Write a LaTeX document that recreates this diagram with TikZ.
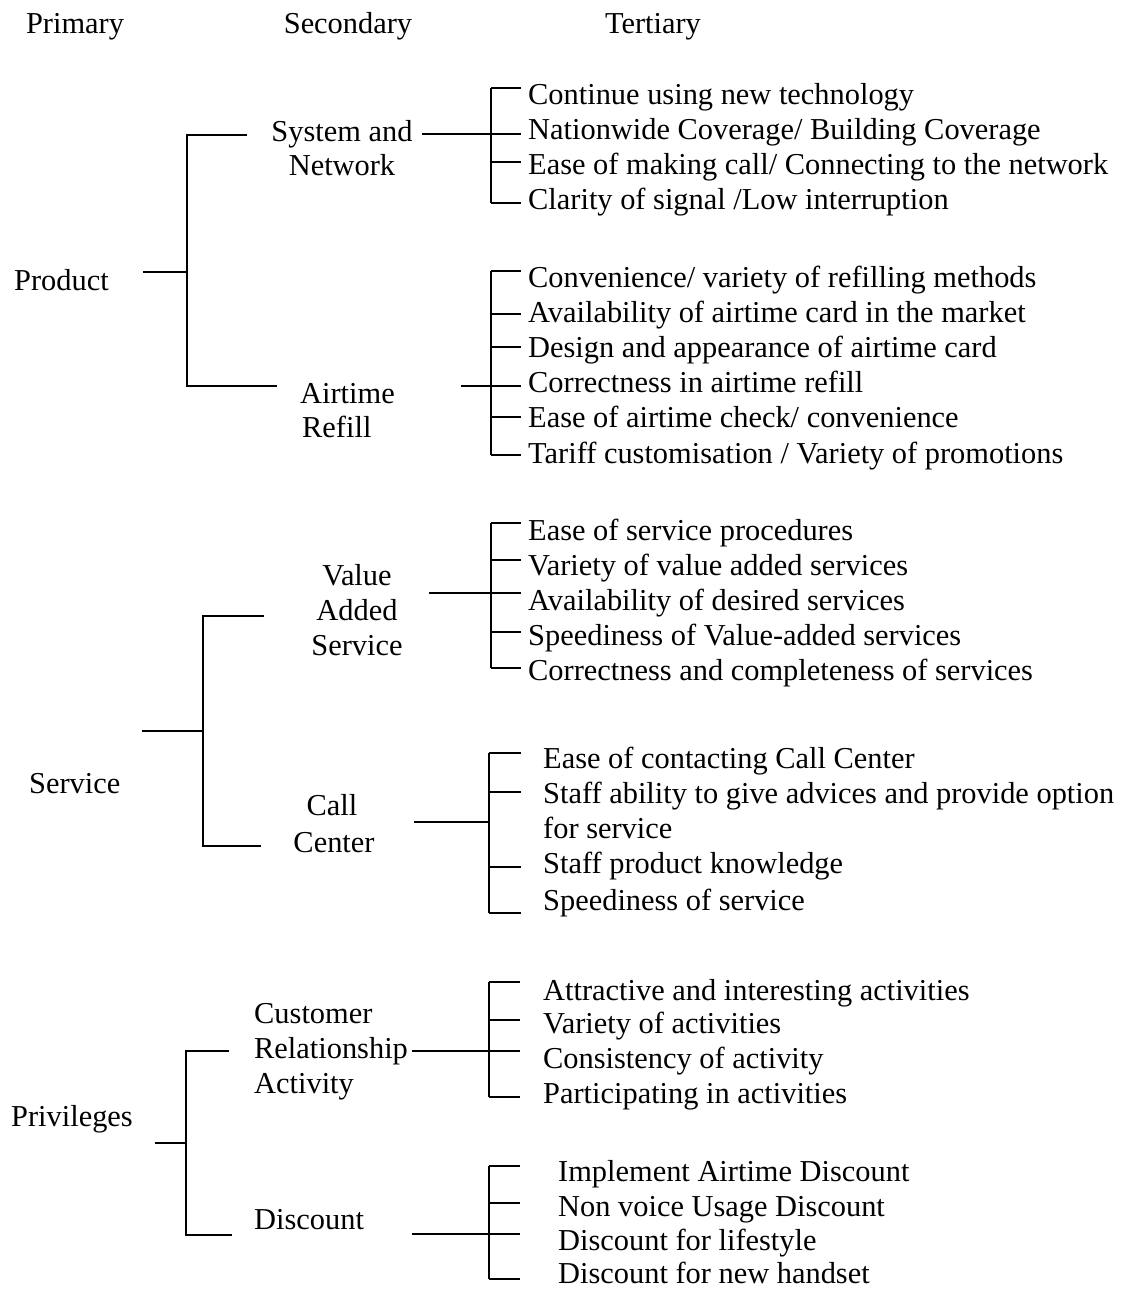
\documentclass[tikz,border=0pt]{standalone}
\usepackage{fontspec}
\setmainfont{Liberation Serif}
\begin{document}
\begin{tikzpicture}[x=1pt,y=-1pt,
  txt/.style={font=\fontsize{30.4}{35}\selectfont, inner sep=0pt, anchor=base west, text=black},
  ctr/.style={txt, anchor=base},
  conn/.style={line width=1.7pt, black}]
\useasboundingbox (0,0) rectangle (1125,1290);
% headers
\node[ctr] (hp) at (75,34) {Primary};
\node[ctr] (hs) at (348,34) {Secondary};
\node[ctr] (ht) at (653,34) {Tertiary};

% ================= PRODUCT =================
\node[txt] (product) at (14,290) {Product};
\coordinate (p-stub) at (143,272);
\coordinate (p-mid) at (187,272);
\coordinate (p-top) at (187,135);
\coordinate (p-bot) at (187,386);
\coordinate (p-topend) at (247,135);
\coordinate (p-botend) at (277,386);
\draw[conn] (p-stub) -- (p-mid);
\draw[conn] (p-topend) -- (p-top) -- (p-bot) -- (p-botend);

\node[ctr] (sn1) at (342,141) {System and};
\node[ctr] (sn2) at (342,175) {Network};
\coordinate (sn-out) at (422,134);
\foreach \y [count=\i] in {88,134,162,203}{
  \coordinate (sn-b\i) at (491,\y);
  \coordinate (sn-t\i) at (521,\y);
  \draw[conn] (sn-b\i) -- (sn-t\i);}
\draw[conn] (sn-b1) -- (sn-b4);
\draw[conn] (sn-out) -- (sn-b2);
\node[txt] (sn-a) at (528,104) {Continue using new technology};
\node[txt] (sn-b) at (528,139) {Nationwide Coverage/ Building Coverage};
\node[txt] (sn-c) at (528,174) {Ease of making call/ Connecting to the network};
\node[txt] (sn-d) at (528,209) {Clarity of signal /Low interruption};

\node[txt] (ar1) at (300,403) {Airtime};
\node[txt] (ar2) at (302,437) {Refill};
\coordinate (ar-out) at (461,386);
\foreach \y [count=\i] in {271,314,347,386,417,455}{
  \coordinate (ar-b\i) at (491,\y);
  \coordinate (ar-t\i) at (521,\y);
  \draw[conn] (ar-b\i) -- (ar-t\i);}
\draw[conn] (ar-b1) -- (ar-b6);
\draw[conn] (ar-out) -- (ar-b4);
\node[txt] (ar-a) at (528,287) {Convenience/ variety of refilling methods};
\node[txt] (ar-b) at (528,322) {Availability of airtime card in the market};
\node[txt] (ar-c) at (528,357) {Design and appearance of airtime card};
\node[txt] (ar-d) at (528,392) {Correctness in airtime refill};
\node[txt] (ar-e) at (528,427) {Ease of airtime check/ convenience};
\node[txt] (ar-f) at (528,463) {Tariff customisation / Variety of promotions};

% ================= SERVICE =================
\node[txt] (service) at (29,793) {Service};
\coordinate (s-stub) at (142,731);
\coordinate (s-mid) at (203,731);
\coordinate (s-top) at (203,616);
\coordinate (s-bot) at (203,846);
\coordinate (s-topend) at (264,616);
\coordinate (s-botend) at (261,846);
\draw[conn] (s-stub) -- (s-mid);
\draw[conn] (s-topend) -- (s-top) -- (s-bot) -- (s-botend);

\node[ctr] (va1) at (357,585) {Value};
\node[ctr] (va2) at (357,620) {Added};
\node[ctr] (va3) at (357,655) {Service};
\coordinate (va-out) at (429,593);
\foreach \y [count=\i] in {523,560,593,632,668}{
  \coordinate (va-b\i) at (491,\y);
  \coordinate (va-t\i) at (521,\y);
  \draw[conn] (va-b\i) -- (va-t\i);}
\draw[conn] (va-b1) -- (va-b5);
\draw[conn] (va-out) -- (va-b3);
\node[txt] (va-a) at (528,540) {Ease of service procedures};
\node[txt] (va-b) at (528,575) {Variety of value added services};
\node[txt] (va-c) at (528,610) {Availability of desired services};
\node[txt] (va-d) at (528,645) {Speediness of Value-added services};
\node[txt] (va-e) at (528,680) {Correctness and completeness of services};

\node[ctr] (cc1) at (332,815) {Call};
\node[ctr] (cc2) at (334,852) {Center};
\coordinate (cc-out) at (414,822);
\foreach \y [count=\i] in {753,792,867,913}{
  \coordinate (cc-b\i) at (489,\y);
  \coordinate (cc-t\i) at (521,\y);
  \draw[conn] (cc-b\i) -- (cc-t\i);}
\draw[conn] (cc-b1) -- (cc-b4);
\coordinate (cc-j) at (489,822);
\draw[conn] (cc-out) -- (cc-j);
\node[txt] (cc-a) at (543,768) {Ease of contacting Call Center};
\node[txt] (cc-b) at (543,803) {Staff ability to give advices and provide option};
\node[txt] (cc-b2) at (543,838) {for service};
\node[txt] (cc-c) at (543,873) {Staff product knowledge};
\node[txt] (cc-d) at (543,910) {Speediness of service};

% ================= PRIVILEGES =================
\node[txt] (priv) at (11,1126) {Privileges};
\coordinate (v-stub) at (155,1143);
\coordinate (v-mid) at (186,1143);
\coordinate (v-top) at (186,1051);
\coordinate (v-bot) at (186,1235);
\coordinate (v-topend) at (229,1051);
\coordinate (v-botend) at (232,1235);
\draw[conn] (v-stub) -- (v-mid);
\draw[conn] (v-topend) -- (v-top) -- (v-bot) -- (v-botend);

\node[txt] (cr1) at (254,1023) {Customer};
\node[txt] (cr2) at (254,1058) {Relationship};
\node[txt] (cr3) at (254,1093) {Activity};
\coordinate (cr-out) at (412,1051);
\foreach \y [count=\i] in {982,1020,1051,1097}{
  \coordinate (cr-b\i) at (489,\y);
  \coordinate (cr-t\i) at (520,\y);
  \draw[conn] (cr-b\i) -- (cr-t\i);}
\draw[conn] (cr-b1) -- (cr-b4);
\draw[conn] (cr-out) -- (cr-b3);
\node[txt] (cr-a) at (543,1000) {Attractive and interesting activities};
\node[txt] (cr-b) at (543,1033) {Variety of activities};
\node[txt] (cr-c) at (543,1068) {Consistency of activity};
\node[txt] (cr-d) at (543,1103) {Participating in activities};

\node[txt] (dc1) at (254,1229) {Discount};
\coordinate (dc-out) at (412,1234);
\foreach \y [count=\i] in {1166,1203,1234,1279}{
  \coordinate (dc-b\i) at (489,\y);
  \coordinate (dc-t\i) at (520,\y);
  \draw[conn] (dc-b\i) -- (dc-t\i);}
\draw[conn] (dc-b1) -- (dc-b4);
\draw[conn] (dc-out) -- (dc-b3);
\node[txt] (dc-a) at (558,1181) {Implement Airtime Discount};
\node[txt] (dc-b) at (558,1216) {Non voice Usage Discount};
\node[txt] (dc-c) at (558,1250) {Discount for lifestyle};
\node[txt] (dc-d) at (558,1283) {Discount for new handset};
\end{tikzpicture}
\end{document}
